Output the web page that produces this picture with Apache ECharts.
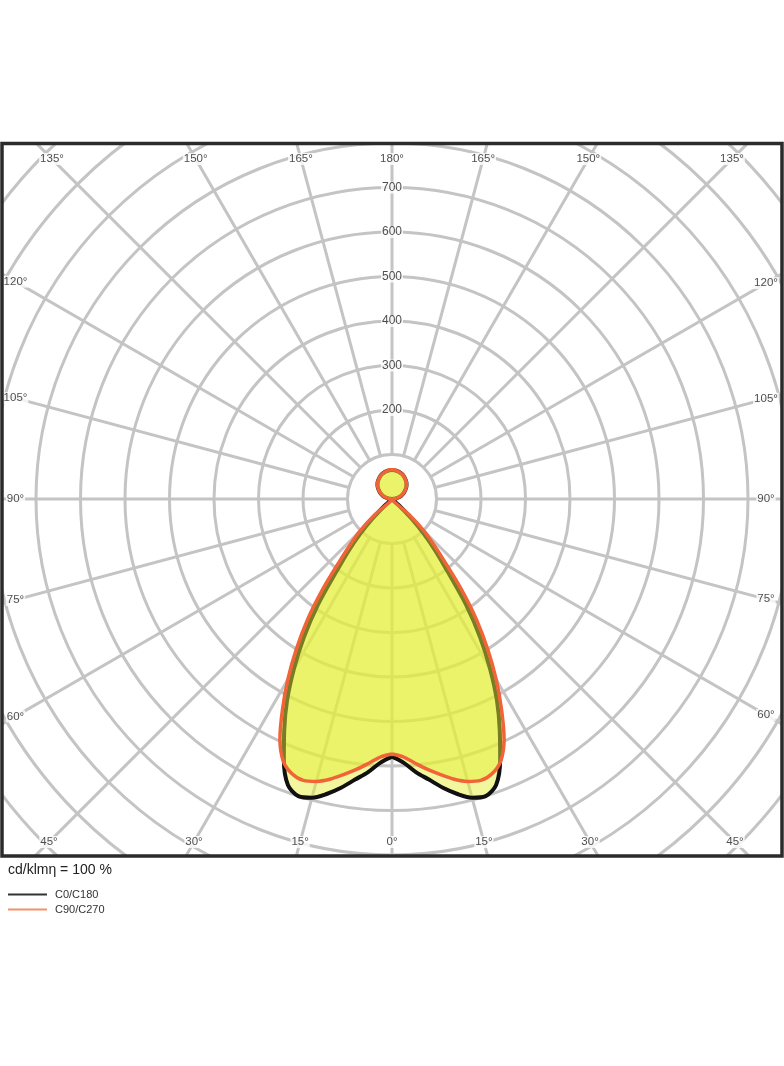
<!DOCTYPE html>
<html>
<head>
<meta charset="utf-8">
<script src="https://cdn.jsdelivr.net/npm/echarts@6/dist/echarts.min.js"></script>
<style>
html,body{margin:0;padding:0;background:#fff;}
#chart{width:784px;height:1066px;}
</style>
</head>
<body>
<div id="chart"></div>
<script>
// ---- data (cd/klm) ----
// gamma angle from nadir (0 deg = straight down)
const gammaAngles = [0,2.5,5,7.5,10,12.5,15,17.5,20,22.5,25,27.5,30,32.5,35,37.5,40,42.5,45,47.5,50,
  55,60,65,70,75,80,85,90,95,100,105,110,115,120,125,130,135,140,145,150,155,160,165,170,175,180];
// C0/C180 plane (black curve), symmetric halves
const c0c180 = [579,593,616,636,659,679,695,700,684,635,573,511,441,369,290,205,152,104,61,20,0,
  0,0,0,0,0,0,0,0,6,11,17,22,27,32,37,42,46,50,53,56,59,61,63,64,65,65];
// C90/C270 plane (orange curve), symmetric halves
const c90c270 = [573,580,596,613,629,645,657,663,657,638,596,533,468,400,331,256,184,138,102,51,0,
  0,0,0,0,0,0,0,0,6,11,17,22,27,32,37,42,46,50,53,56,59,61,63,64,66,66];
// grid rings (cd/klm) and labels
const ringValues = [100,200,300,400,500,600,700,800,900,1000,1100,1200];
const radiusLabels = [200,300,400,500,600,700];
const angleTicks = [0,15,30,45,60,75,90,105,120,135,150,165,180,195,210,225,240,255,270,285,300,315,330,345];
const seriesNames = ['C0/C180','C90/C270'];
const titleText = 'cd/klm\u03b7 = 100 %';

// ---- layout ----
const PX_PER_CD = 0.445;
const ringMax = ringValues[ringValues.length - 1];
const center = [392, 499];
const frame = {x: 2, y: 143.5, w: 780, h: 712.5};
const labelBox = {left: 376.5, right: 374, top: 340, bottom: 343};
const FONT = '"Liberation Sans", Arial, Helvetica, sans-serif';
const GRID = '#c4c4c4';
const FILL = 'rgba(228,238,55,0.7)';

// angle value phi: 0 at nadir, counter-clockwise on screen; left half = 360 - gamma
function loopData(vals) {
  const d = [];
  gammaAngles.forEach((g, i) => d.push([vals[i], g]));
  for (let i = gammaAngles.length - 1; i >= 0; i--) d.push([vals[i], 360 - gammaAngles[i]]);
  return d;
}
function labelRadius(phi) {
  const rad = phi * Math.PI / 180;
  const sx = Math.sin(rad), cy = Math.cos(rad);
  const hx = sx >= 0 ? labelBox.right : labelBox.left;
  const hy = cy >= 0 ? labelBox.bottom : labelBox.top;
  const t1 = Math.abs(sx) > 1e-9 ? hx / Math.abs(sx) : Infinity;
  const t2 = Math.abs(cy) > 1e-9 ? hy / Math.abs(cy) : Infinity;
  return Math.min(t1, t2) / PX_PER_CD;
}
const angleLabelData = angleTicks.map(phi => [labelRadius(phi), phi, phi <= 180 ? phi : 360 - phi]);
const radiusLabelData = radiusLabels.map(r => [r, 180]);

const chart = echarts.init(document.getElementById('chart'), null, {renderer: 'canvas'});
const option = {
  animation: false,
  backgroundColor: '#fff',
  title: {
    text: titleText, left: 8, top: 863, z: 10, padding: 0,
    textStyle: {fontFamily: FONT, fontSize: 14, fontWeight: 'normal', color: '#222'}
  },
  legend: {
    orient: 'vertical', left: 8, top: 889, z: 10, padding: 0,
    itemWidth: 39, itemHeight: 2, itemGap: 4, icon: 'rect', selectedMode: false,
    textStyle: {fontFamily: FONT, fontSize: 11, color: '#333', padding: [0, 0, 0, 3]},
    data: [
      {name: seriesNames[0], itemStyle: {color: '#333'}},
      {name: seriesNames[1], itemStyle: {color: '#f2916c'}}
    ]
  },
  polar: {center: center, radius: ringMax * PX_PER_CD},
  angleAxis: {
    type: 'value', min: 0, max: 360, interval: 15, startAngle: 270, clockwise: false,
    axisLine: {show: false}, axisTick: {show: false}, axisLabel: {show: false},
    splitLine: {show: false}
  },
  radiusAxis: {
    type: 'value', min: 0, max: ringMax, interval: 100,
    axisLine: {show: false}, axisTick: {show: false}, axisLabel: {show: false},
    splitLine: {show: true, lineStyle: {color: GRID, width: 3}}
  },
  series: [
    {
      type: 'custom', coordinateSystem: 'polar', silent: true, z: 1,
      data: angleTicks.map(phi => [ringMax, phi]),
      renderItem: function (params, api) {
        const phi = api.value(1);
        const p1 = api.coord([ringValues[0], phi]);
        const p2 = api.coord([ringMax, phi]);
        return {type: 'line', shape: {x1: p1[0], y1: p1[1], x2: p2[0], y2: p2[1]},
          style: {stroke: GRID, lineWidth: 3}};
      }
    },
    {
      name: seriesNames[0], type: 'line', coordinateSystem: 'polar', z: 3,
      data: loopData(c0c180), showSymbol: false, symbol: 'none', silent: true, smooth: 0.3,
      color: '#111',
      lineStyle: {color: '#111', width: 4, join: 'round'},
      areaStyle: {color: FILL, origin: 'start'}
    },
    {
      name: seriesNames[1], type: 'line', coordinateSystem: 'polar', z: 4,
      data: loopData(c90c270), showSymbol: false, symbol: 'none', silent: true, smooth: 0.3,
      color: '#f06437',
      lineStyle: {color: '#f06437', width: 3.5, join: 'round'},
      areaStyle: {color: FILL, origin: 'start'}
    },
    {
      type: 'scatter', coordinateSystem: 'polar', z: 6, silent: true,
      symbolSize: 1, itemStyle: {color: 'rgba(0,0,0,0)'},
      data: radiusLabelData,
      label: {show: true, position: 'inside', formatter: p => String(p.data[0]),
        fontFamily: FONT, fontSize: 12, color: '#222', backgroundColor: '#fff', padding: [0, 1]}
    },
    {
      type: 'scatter', coordinateSystem: 'polar', z: 6, silent: true,
      symbolSize: 1, itemStyle: {color: 'rgba(0,0,0,0)'},
      data: angleLabelData,
      label: {show: true, position: 'inside', formatter: p => p.data[2] + '\u00b0',
        fontFamily: FONT, fontSize: 11.5, color: '#222', backgroundColor: '#fff', padding: [0, 1]}
    }
  ],
  graphic: [
    {type: 'rect', z: 8, silent: true, shape: {x: 0, y: 0, width: 784, height: frame.y}, style: {fill: '#fff'}},
    {type: 'rect', z: 8, silent: true, shape: {x: 0, y: frame.y + frame.h, width: 784, height: 1066 - frame.y - frame.h}, style: {fill: '#fff'}},
    {type: 'rect', z: 8, silent: true, shape: {x: 0, y: 0, width: frame.x, height: 1066}, style: {fill: '#fff'}},
    {type: 'rect', z: 8, silent: true, shape: {x: frame.x + frame.w, y: 0, width: 784 - frame.x - frame.w, height: 1066}, style: {fill: '#fff'}},
    {type: 'rect', z: 9, silent: true, shape: {x: frame.x, y: frame.y, width: frame.w, height: frame.h},
      style: {fill: 'none', stroke: '#2b2b2b', lineWidth: 3.5}}
  ]
};
chart.setOption(option);
</script>
</body>
</html>
